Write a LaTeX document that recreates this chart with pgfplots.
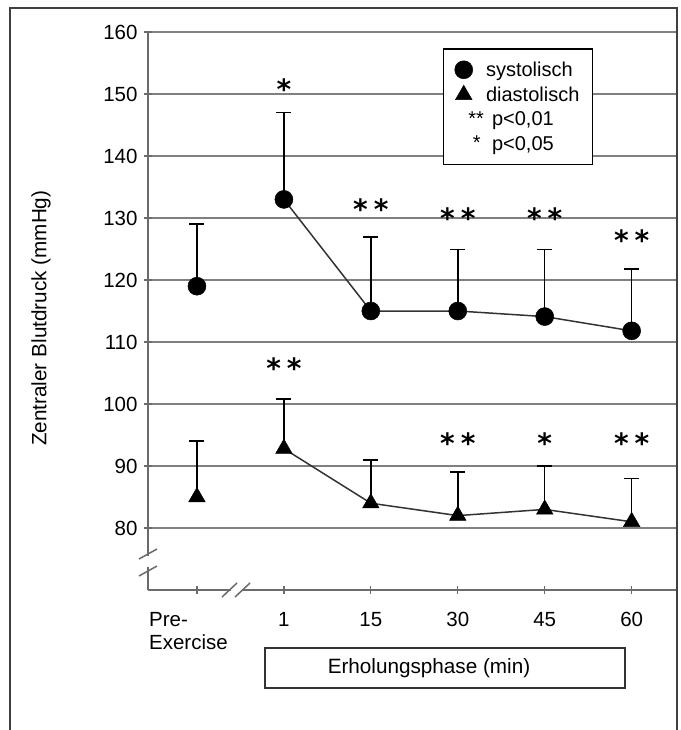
\documentclass[border=0pt]{standalone}
\usepackage{pgfplots}
\pgfplotsset{compat=1.18}
\usepackage{fontspec}
\setmainfont{Liberation Sans}
\newfontfamily\starfont{DejaVu Sans}
\definecolor{axgray}{gray}{0.42}
\definecolor{gridgray}{gray}{0.5}
\definecolor{linegray}{gray}{0.2}

\pgfplotsset{
  markleg/.style={legend image code/.code={\path[draw=none,fill=none] (0pt,-6pt) rectangle (22pt,6pt);
    \draw[##1] plot coordinates {(9pt,0pt)};}},
}

\pgfplotstableread{
x y ep
0 119 10
}\sysPre
\pgfplotstableread{
x y ep
1 133 14
2 115 11.9
3 115 9.9
4 114.1 10.8
5 111.8 10
}\sysPost
\pgfplotstableread{
x y ep
0 85 9
}\diaPre
\pgfplotstableread{
x y ep
1 92.8 8
2 84 7
3 82 7
4 83 7
5 81 7
}\diaPost

\begin{document}
\begin{tikzpicture}[x=1pt,y=1pt]
\useasboundingbox (0pt,0pt) rectangle (680pt,-730pt);
\begin{axis}[
  at={(148pt,-590pt)}, anchor=south west,
  scale only axis, width=528pt, height=558pt,
  xmin=-0.563, xmax=5.51, ymin=70, ymax=160,
  axis x line*=bottom, axis y line*=left,
  axis line style={-, draw=axgray, line width=1.5pt},
  ytick={80,90,...,160}, xtick={0,...,5},
  xticklabels={{Pre-\\Exercise\hspace*{17pt}},1,15,30,45,60},
  xticklabel style={align=left, yshift=-15pt},
  yticklabel style={xshift=-3pt},
  ymajorgrids, grid style={gridgray, line width=1.5pt},
  tick style={axgray, line width=1.3pt}, tick align=center, major tick length=8pt,
  font=\fontsize{20.5}{23}\selectfont,
  ticklabel style={font=\fontsize{20.5}{23}\selectfont},
  /pgf/number format/assume math mode=true,
  ylabel={Zentraler Blutdruck (mmHg)},
  ylabel style={at={(rel axis cs:-0.2027,0.487)}, anchor=center, font=\fontsize{20.7}{23}\selectfont},
  clip=false,
  legend style={at={(0.5587,0.9713)}, anchor=north west, draw=black, line width=1.5pt,
    fill=white, font=\fontsize{20}{23}\selectfont, row sep=5pt, inner xsep=11pt, inner ysep=11pt,
    /tikz/every odd column/.append style={column sep=0pt}},
  legend cell align=left,
  error bars/y dir=plus, error bars/y explicit,
  error bars/error bar style={black, line width=1.5pt},
  error bars/error mark options={rotate=90, mark size=7.5pt, black, line width=1.5pt},
]
\addplot[only marks, mark=*, mark size=9pt, black, line width=0.5pt, markleg]
  table[x=x, y=y, y error=ep] {\sysPre};
\addlegendentry{systolisch}
\addplot[only marks, mark=triangle*, mark size=9.5pt, black, line width=0.5pt, markleg]
  table[x=x, y=y, y error=ep] {\diaPre};
\addlegendentry{diastolisch}
\addlegendimage{legend image code/.code={\path[draw=none,fill=none] (0pt,-6pt) rectangle (22pt,6pt);
  \node[inner sep=0pt, anchor=base, black] at (21.5pt,-6pt) {**};}}
\addlegendentry{\hspace*{6pt}p<0,01}
\addlegendimage{legend image code/.code={\path[draw=none,fill=none] (0pt,-6pt) rectangle (22pt,6pt);
  \node[inner sep=0pt, anchor=base, black] at (22pt,-6pt) {*};}}
\addlegendentry{\hspace*{6pt}p<0,05}

\addplot[forget plot, linegray, line width=1.5pt, mark=*, mark size=9pt,
  mark options={black, line width=0.5pt}]
  table[x=x, y=y, y error=ep] {\sysPost};
\addplot[forget plot, linegray, line width=1.5pt, mark=triangle*, mark size=9.5pt,
  mark options={black, line width=0.5pt}]
  table[x=x, y=y, y error=ep] {\diaPost};

% significance stars
\tikzset{star/.style={font=\starfont\bfseries\fontsize{28}{28}\selectfont, inner sep=0pt, anchor=center, yshift=-4pt}}
\node[star] at (axis cs:1,151.4) {*};
\node[star] at (axis cs:2,132.0) {*\hspace{6pt}*};
\node[star] at (axis cs:3,130.7) {*\hspace{6pt}*};
\node[star] at (axis cs:4,130.7) {*\hspace{6pt}*};
\node[star] at (axis cs:5,127.0) {*\hspace{6pt}*};
\node[star] at (axis cs:1,106.5) {*\hspace{6pt}*};
\node[star] at (axis cs:3,94.4) {*\hspace{6pt}*};
\node[star] at (axis cs:4,94.4) {*};
\node[star] at (axis cs:5,94.4) {*\hspace{6pt}*};
\end{axis}

% axis breaks
\fill[white] (141pt,-556pt) rectangle (155pt,-567pt);
\draw[axgray, line width=1.5pt] (139pt,-559pt) -- (157pt,-549pt);
\draw[axgray, line width=1.5pt] (139pt,-576pt) -- (157pt,-566pt);
\fill[white] (231pt,-583pt) rectangle (243pt,-595pt);
\draw[axgray, line width=1.5pt] (222pt,-597pt) -- (237pt,-583pt);
\draw[axgray, line width=1.5pt] (235pt,-597pt) -- (250pt,-583pt);

% outer frame
\draw[black!75, line width=1.5pt] (10pt,-731pt) -- (10pt,-8pt) -- (677pt,-8pt) -- (677pt,-731pt);

% recovery phase box
\draw[black!80, line width=1.5pt] (265pt,-648pt) rectangle (625pt,-688pt);
\node[font=\fontsize{20.7}{23}\selectfont] at (429pt,-668pt) {Erholungsphase (min)};
\end{tikzpicture}
\end{document}
